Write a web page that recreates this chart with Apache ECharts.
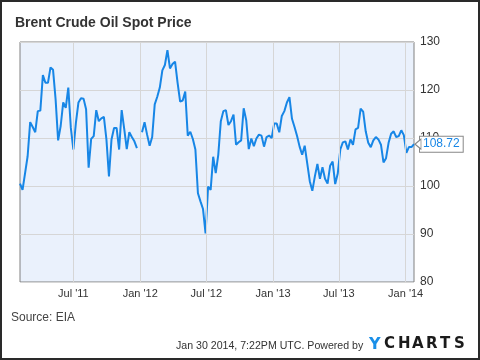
<!DOCTYPE html>
<html>
<head>
<meta charset="utf-8">
<script src="https://cdn.jsdelivr.net/npm/echarts@6/dist/echarts.min.js"></script>
<style>html,body{margin:0;padding:0;background:#fff}#c{width:480px;height:360px}</style>
</head>
<body>
<div id="c"></div>
<script>
// Weekly Brent spot prices, first week starting
var startDate = '2011-02-04';
var prices = [100.5, 99.2, 102.7, 106.2, 113.3, 112.3, 111.2, 115.6, 115.7, 123.1, 121.5, 121.5, 124.7, 124.2, 118.1, 109.5, 112.5, 117.4, 116.3, 120.5, 112.1, 107.6, 113.2, 117.4, 118.3, 118.2, 116.0, 103.8, 109.8, 110.4, 115.8, 113.5, 114.1, 114.4, 109.7, 102.0, 109.7, 112.1, 112.1, 107.6,
115.8, 111.9, 107.7, 111.2, 110.2, 109.3, 107.9, null, 111.2, 113.3, 110.7, 108.4, 110.2, 117.0, 118.6, 120.5, 124.1, 125.2, 128.3, 124.5, 125.4, 125.9, 121.5, 117.6, 117.8, 119.7, 110.5, 111.3, 109.8, 107.6, 98.5, 96.8, 95.2, 90.1, 99.9, 99.2, 106.1, 102.7,
106.5, 113.5, 115.6, 115.8, 112.7, 113.5, 114.9, 108.6, 109.1, 109.5, 116.2, 113.7, 107.7, 109.9, 108.3, 109.9, 110.7, 110.5, 108.2, 110.2, 110.5, 110.0, 113.0, 113.0, 111.2, 114.6, 115.6, 117.4, 118.5, 114.0, 112.3, 110.4, 108.2, 106.5, 108.4, 104.7, 101.0, 99.0,
102.0, 104.6, 101.5, 103.9, 101.5, 100.5, 104.2, 105.1, 100.4, 102.6, 107.6, 109.1, 109.3, 107.6, 109.7, 108.6, 111.8, 112.1, 116.1, 115.5, 111.4, 109.0, 108.1, 109.5, 110.2, 109.7, 108.6, 104.9, 105.8, 109.0, 110.9, 111.4, 110.2, 110.4, 111.6, 110.6, 106.9, 108.1, 108.1, 108.72];
var xTickDates = ['2011-07-01', '2012-01-01', '2012-07-01', '2013-01-01', '2013-07-01', '2014-01-01'];
var xTickLabels = ["Jul '11", "Jan '12", "Jul '12", "Jan '13", "Jul '13", "Jan '14"];
var yTicks = [80, 90, 100, 110, 120, 130];

var DAY = 86400000;
var t0 = new Date(startDate + 'T00:00:00Z').getTime();
var seriesData = prices.map(function (v, i) { return [t0 + i * 7 * DAY, v]; });
var tickTimes = xTickDates.map(function (d) { return new Date(d + 'T00:00:00Z').getTime(); });
var lastPoint = seriesData[seriesData.length - 1];
var FONT = "'Liberation Sans', Arial, sans-serif";
var LOGO = "'DejaVu Sans', sans-serif";
var LINE = '#1786e6';

var chart = echarts.init(document.getElementById('c'), null, {renderer: 'canvas'});
chart.setOption({
  animation: false,
  backgroundColor: '#fff',
  title: {
    text: 'Brent Crude Oil Spot Price',
    left: 10, top: 11,
    textStyle: {fontSize: 14, fontWeight: 'bold', color: '#333', fontFamily: FONT}
  },
  grid: {left: 20, right: 66, top: 42, bottom: 78, show: true, backgroundColor: '#eaf1fc', borderColor: '#808080', borderWidth: 1},
  xAxis: {
    type: 'value',
    min: seriesData[0][0],
    max: lastPoint[0],
    axisLine: {show: false},
    axisTick: {show: false, customValues: tickTimes},
    splitLine: {show: false},
    axisLabel: {
      customValues: tickTimes,
      margin: 6,
      color: '#333', fontSize: 11, fontFamily: FONT,
      formatter: function (val) {
        var idx = tickTimes.indexOf(val);
        return idx >= 0 ? xTickLabels[idx] : '';
      }
    }
  },
  yAxis: {
    type: 'value',
    position: 'right',
    min: yTicks[0], max: yTicks[yTicks.length - 1], interval: 10,
    axisLine: {show: false},
    axisTick: {show: false},
    splitLine: {show: true, lineStyle: {color: '#d6d6d6', width: 1}},
    axisLabel: {margin: 6, color: '#333', fontSize: 12, fontFamily: FONT}
  },
  series: [{
    type: 'line',
    data: [],
    z: 1,
    silent: true,
    markLine: {
      silent: true,
      symbol: 'none',
      label: {show: false},
      lineStyle: {color: '#d6d6d6', width: 1, type: 'solid'},
      data: tickTimes.map(function (t) { return {xAxis: t}; })
    }
  }, {
    type: 'line',
    data: seriesData,
    z: 3,
    showSymbol: false,
    connectNulls: false,
    lineStyle: {color: LINE, width: 2},
    itemStyle: {color: LINE},
    endLabel: {
      show: true,
      distance: 6,
      formatter: function () { return String(prices[prices.length - 1]); },
      color: LINE, fontSize: 12, fontFamily: FONT,
      backgroundColor: '#fff', borderColor: '#888', borderWidth: 1,
      padding: [2, 3, 1, 3]
    },
    markPoint: {
      silent: true,
      symbol: 'path://M0,5 L6,0 L6,10 Z',
      symbolSize: [6, 10],
      symbolOffset: [4, 0],
      itemStyle: {color: '#fff', borderColor: '#888', borderWidth: 1},
      label: {show: false},
      data: [{coord: lastPoint}]
    }
  }],
  graphic: [
    {type: 'rect', shape: {x: 1, y: 1, width: 478, height: 358}, style: {fill: 'none', stroke: '#2a2a2a', lineWidth: 2}, z: 100},
    {type: 'text', left: 11, top: 312, style: {text: 'Source: EIA', font: '12px ' + FONT, fill: '#444'}},
    {type: 'text', left: 176, top: 341, style: {text: 'Jan 30 2014, 7:22PM UTC. Powered by', font: '10.6px ' + FONT, fill: '#333'}},
    {type: 'text', left: 369, top: 337, style: {text: 'Y', font: 'bold 16px ' + LOGO, fill: '#1a8fe8'}},
    {type: 'text', left: 384, top: 337, style: {text: 'C', font: 'bold 15px ' + LOGO, fill: '#1b1b1b'}},
    {type: 'text', left: 398, top: 337, style: {text: 'H', font: 'bold 15px ' + LOGO, fill: '#1b1b1b'}},
    {type: 'text', left: 412, top: 337, style: {text: 'A', font: 'bold 15px ' + LOGO, fill: '#1b1b1b'}},
    {type: 'text', left: 426, top: 337, style: {text: 'R', font: 'bold 15px ' + LOGO, fill: '#1b1b1b'}},
    {type: 'text', left: 440, top: 337, style: {text: 'T', font: 'bold 15px ' + LOGO, fill: '#1b1b1b'}},
    {type: 'text', left: 454, top: 337, style: {text: 'S', font: 'bold 15px ' + LOGO, fill: '#1b1b1b'}}
  ]
});
</script>
</body>
</html>
